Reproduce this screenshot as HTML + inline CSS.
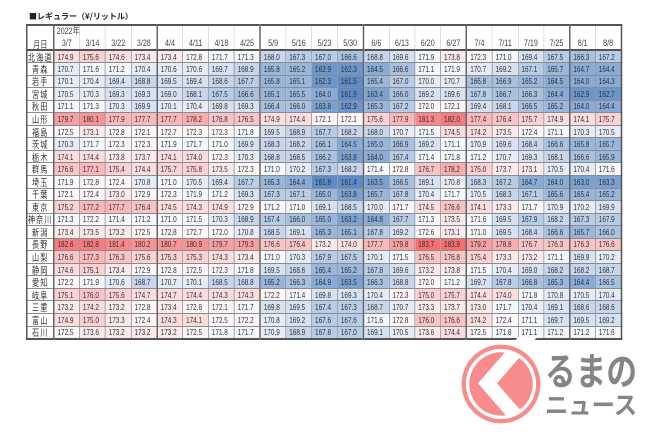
<!DOCTYPE html>
<html><head><meta charset="utf-8">
<style>
body{margin:0;width:650px;height:433px;background:#fff;overflow:hidden;position:relative;font-family:"Liberation Sans","Noto Sans CJK JP",sans-serif}
.ttl{position:absolute;left:29px;top:12px;font-size:8px;line-height:10px;font-weight:bold;color:#222;white-space:nowrap;font-family:"Noto Sans CJK JP",sans-serif}
.wrap{position:absolute;left:26px;top:24px;transform:scaleX(.75);transform-origin:0 0}
table{border-collapse:collapse;table-layout:fixed;width:793px;border:2px solid #555}
col.p{width:36px}col.d{width:34.4px}
td{padding:0 0 0 4px;font-size:8.5px;line-height:10px;color:#333;white-space:nowrap;overflow:hidden;border:1px solid #8c8c8c;vertical-align:middle}
thead td{border-top:none;border-bottom:none;border-left:1px solid #d4d4d4;border-right:1px solid #d4d4d4;font-size:9.5px;text-align:center;padding:0;color:#444}
thead tr.h1{height:13.5px}
thead tr.h2{height:11.5px}
thead tr.h1 td{vertical-align:middle;overflow:visible}
thead td.y{text-align:left;padding-left:3px}
tbody tr{height:12.55px}
tbody tr:first-child td{border-top:2px solid #555}
tbody td:first-child{text-align:center;padding:0;font-size:9.5px;letter-spacing:1.5px;font-family:"Noto Sans CJK JP",sans-serif;color:#333}
thead td:first-child{font-family:"Noto Sans CJK JP",sans-serif}
td:nth-child(2),td:nth-child(6),td:nth-child(10),td:nth-child(14),td:nth-child(18),td:nth-child(22){border-left:2px solid #666}
.c161{background:#5c8bc7}.c162{background:#6b96cc}.c163{background:#7aa1d1}.c164{background:#89abd7}.c165{background:#99b6dc}.c166{background:#a8c1e1}.c167{background:#b7cce7}.c168{background:#c7d6ec}.c169{background:#d6e1f2}.c170{background:#e5ecf7}.c171{background:#f4f7fc}.c172{background:#fcf6f9}.c173{background:#fbe9ec}.c174{background:#fbdde0}.c175{background:#fbd1d3}.c176{background:#fac4c7}.c177{background:#fab8bb}.c178{background:#faacae}.c179{background:#f99fa2}.c180{background:#f99395}.c181{background:#f98789}.c182{background:#f97a7c}.c183{background:#f86e70}
.logo{position:absolute;left:450px;top:330px}
</style></head><body>
<div class="ttl">■レギュラー（¥/リットル）</div>
<div class="wrap">
<table>
<colgroup><col class="p"><col class="d"><col class="d"><col class="d"><col class="d"><col class="d"><col class="d"><col class="d"><col class="d"><col class="d"><col class="d"><col class="d"><col class="d"><col class="d"><col class="d"><col class="d"><col class="d"><col class="d"><col class="d"><col class="d"><col class="d"><col class="d"><col class="d"></colgroup>
<thead>
<tr class="h1"><td></td><td class="y">2022年</td><td></td><td></td><td></td><td></td><td></td><td></td><td></td><td></td><td></td><td></td><td></td><td></td><td></td><td></td><td></td><td></td><td></td><td></td><td></td><td></td><td></td></tr>
<tr class="h2"><td>月日</td><td>3/7</td><td>3/14</td><td>3/22</td><td>3/28</td><td>4/4</td><td>4/11</td><td>4/18</td><td>4/25</td><td>5/9</td><td>5/16</td><td>5/23</td><td>5/30</td><td>6/6</td><td>6/13</td><td>6/20</td><td>6/27</td><td>7/4</td><td>7/11</td><td>7/19</td><td>7/25</td><td>8/1</td><td>8/8</td></tr>
</thead>
<tbody>
<tr><td>北海道</td><td class="c174">174.9</td><td class="c175">175.6</td><td class="c174">174.6</td><td class="c173">173.4</td><td class="c173">173.4</td><td class="c172">172.8</td><td class="c171">171.7</td><td class="c171">171.3</td><td class="c168">168.0</td><td class="c167">167.3</td><td class="c167">167.0</td><td class="c166">166.6</td><td class="c168">168.8</td><td class="c169">169.6</td><td class="c171">171.9</td><td class="c173">173.8</td><td class="c172">172.3</td><td class="c171">171.0</td><td class="c169">169.4</td><td class="c167">167.5</td><td class="c166">166.3</td><td class="c167">167.2</td></tr>
<tr><td>青森</td><td class="c170">170.7</td><td class="c171">171.6</td><td class="c171">171.2</td><td class="c170">170.4</td><td class="c170">170.6</td><td class="c170">170.6</td><td class="c169">169.7</td><td class="c168">168.9</td><td class="c165">165.8</td><td class="c165">165.2</td><td class="c162">162.9</td><td class="c162">162.3</td><td class="c164">164.5</td><td class="c166">166.6</td><td class="c171">171.1</td><td class="c171">171.9</td><td class="c170">170.7</td><td class="c169">169.2</td><td class="c167">167.1</td><td class="c165">165.7</td><td class="c164">164.7</td><td class="c164">164.4</td></tr>
<tr><td>岩手</td><td class="c170">170.1</td><td class="c170">170.4</td><td class="c169">169.4</td><td class="c168">168.8</td><td class="c169">169.5</td><td class="c169">169.4</td><td class="c168">168.6</td><td class="c167">167.7</td><td class="c165">165.8</td><td class="c165">165.1</td><td class="c162">162.3</td><td class="c161">161.5</td><td class="c165">165.4</td><td class="c167">167.0</td><td class="c170">170.0</td><td class="c170">170.7</td><td class="c166">166.8</td><td class="c166">166.9</td><td class="c165">165.2</td><td class="c164">164.5</td><td class="c164">164.0</td><td class="c164">164.3</td></tr>
<tr><td>宮城</td><td class="c170">170.5</td><td class="c170">170.3</td><td class="c169">169.3</td><td class="c169">169.3</td><td class="c169">169.0</td><td class="c168">168.1</td><td class="c167">167.5</td><td class="c166">166.6</td><td class="c165">165.1</td><td class="c165">165.5</td><td class="c164">164.0</td><td class="c161">161.9</td><td class="c163">163.4</td><td class="c166">166.0</td><td class="c169">169.2</td><td class="c169">169.6</td><td class="c167">167.8</td><td class="c166">166.7</td><td class="c166">166.3</td><td class="c164">164.4</td><td class="c162">162.9</td><td class="c162">162.7</td></tr>
<tr><td>秋田</td><td class="c171">171.1</td><td class="c171">171.3</td><td class="c170">170.3</td><td class="c169">169.9</td><td class="c170">170.1</td><td class="c170">170.4</td><td class="c169">169.8</td><td class="c169">169.3</td><td class="c166">166.4</td><td class="c166">166.0</td><td class="c163">163.8</td><td class="c162">162.9</td><td class="c165">165.3</td><td class="c167">167.2</td><td class="c172">172.0</td><td class="c172">172.1</td><td class="c169">169.4</td><td class="c168">168.1</td><td class="c166">166.5</td><td class="c165">165.2</td><td class="c164">164.0</td><td class="c164">164.4</td></tr>
<tr><td>山形</td><td class="c179">179.7</td><td class="c180">180.1</td><td class="c177">177.9</td><td class="c177">177.7</td><td class="c177">177.7</td><td class="c178">178.2</td><td class="c176">176.8</td><td class="c176">176.5</td><td class="c174">174.9</td><td class="c174">174.4</td><td class="c172">172.1</td><td class="c172">172.1</td><td class="c175">175.6</td><td class="c177">177.9</td><td class="c181">181.3</td><td class="c182">182.0</td><td class="c177">177.4</td><td class="c176">176.4</td><td class="c175">175.7</td><td class="c174">174.9</td><td class="c174">174.1</td><td class="c175">175.7</td></tr>
<tr><td>福島</td><td class="c172">172.5</td><td class="c173">173.1</td><td class="c172">172.8</td><td class="c172">172.1</td><td class="c172">172.7</td><td class="c172">172.3</td><td class="c172">172.3</td><td class="c171">171.8</td><td class="c169">169.5</td><td class="c168">168.9</td><td class="c167">167.7</td><td class="c168">168.2</td><td class="c168">168.0</td><td class="c170">170.7</td><td class="c171">171.5</td><td class="c174">174.5</td><td class="c174">174.2</td><td class="c173">173.5</td><td class="c172">172.4</td><td class="c171">171.1</td><td class="c170">170.3</td><td class="c170">170.5</td></tr>
<tr><td>茨城</td><td class="c170">170.3</td><td class="c171">171.7</td><td class="c172">172.3</td><td class="c172">172.3</td><td class="c171">171.9</td><td class="c171">171.7</td><td class="c171">171.0</td><td class="c169">169.9</td><td class="c168">168.3</td><td class="c168">168.2</td><td class="c166">166.1</td><td class="c164">164.5</td><td class="c165">165.0</td><td class="c166">166.9</td><td class="c169">169.2</td><td class="c171">171.1</td><td class="c170">170.9</td><td class="c169">169.6</td><td class="c168">168.4</td><td class="c166">166.6</td><td class="c165">165.8</td><td class="c165">165.7</td></tr>
<tr><td>栃木</td><td class="c174">174.1</td><td class="c174">174.4</td><td class="c173">173.8</td><td class="c173">173.7</td><td class="c174">174.1</td><td class="c174">174.0</td><td class="c172">172.3</td><td class="c170">170.3</td><td class="c168">168.8</td><td class="c168">168.5</td><td class="c166">166.2</td><td class="c163">163.8</td><td class="c164">164.0</td><td class="c167">167.4</td><td class="c171">171.4</td><td class="c171">171.8</td><td class="c171">171.2</td><td class="c170">170.7</td><td class="c169">169.3</td><td class="c168">168.1</td><td class="c166">166.6</td><td class="c165">165.9</td></tr>
<tr><td>群馬</td><td class="c176">176.6</td><td class="c177">177.1</td><td class="c175">175.4</td><td class="c174">174.4</td><td class="c175">175.7</td><td class="c175">175.8</td><td class="c173">173.5</td><td class="c172">172.3</td><td class="c171">171.0</td><td class="c170">170.2</td><td class="c167">167.3</td><td class="c168">168.2</td><td class="c171">171.4</td><td class="c172">172.8</td><td class="c176">176.7</td><td class="c178">178.2</td><td class="c175">175.0</td><td class="c173">173.7</td><td class="c173">173.1</td><td class="c170">170.5</td><td class="c170">170.4</td><td class="c171">171.6</td></tr>
<tr><td>埼玉</td><td class="c171">171.9</td><td class="c172">172.8</td><td class="c172">172.4</td><td class="c170">170.8</td><td class="c171">171.0</td><td class="c170">170.5</td><td class="c169">169.4</td><td class="c167">167.7</td><td class="c165">165.3</td><td class="c164">164.4</td><td class="c161">161.8</td><td class="c161">161.4</td><td class="c163">163.5</td><td class="c166">166.5</td><td class="c169">169.1</td><td class="c170">170.8</td><td class="c168">168.3</td><td class="c167">167.2</td><td class="c164">164.7</td><td class="c164">164.0</td><td class="c163">163.0</td><td class="c163">163.3</td></tr>
<tr><td>千葉</td><td class="c172">172.1</td><td class="c172">172.4</td><td class="c173">173.0</td><td class="c172">172.9</td><td class="c172">172.3</td><td class="c171">171.9</td><td class="c171">171.2</td><td class="c169">169.3</td><td class="c167">167.3</td><td class="c167">167.1</td><td class="c165">165.0</td><td class="c163">163.8</td><td class="c165">165.7</td><td class="c167">167.8</td><td class="c170">170.4</td><td class="c171">171.7</td><td class="c170">170.5</td><td class="c168">168.3</td><td class="c167">167.1</td><td class="c165">165.6</td><td class="c165">165.4</td><td class="c165">165.2</td></tr>
<tr><td>東京</td><td class="c175">175.2</td><td class="c177">177.2</td><td class="c177">177.7</td><td class="c176">176.4</td><td class="c174">174.5</td><td class="c174">174.3</td><td class="c174">174.9</td><td class="c172">172.9</td><td class="c171">171.2</td><td class="c171">171.0</td><td class="c169">169.1</td><td class="c168">168.5</td><td class="c170">170.0</td><td class="c171">171.7</td><td class="c174">174.5</td><td class="c176">176.6</td><td class="c174">174.1</td><td class="c173">173.3</td><td class="c171">171.7</td><td class="c170">170.9</td><td class="c170">170.2</td><td class="c169">169.9</td></tr>
<tr><td>神奈川</td><td class="c171">171.3</td><td class="c172">172.2</td><td class="c171">171.4</td><td class="c171">171.2</td><td class="c171">171.0</td><td class="c171">171.5</td><td class="c170">170.3</td><td class="c168">168.9</td><td class="c167">167.4</td><td class="c166">166.0</td><td class="c165">165.0</td><td class="c163">163.2</td><td class="c164">164.8</td><td class="c167">167.7</td><td class="c171">171.3</td><td class="c173">173.5</td><td class="c171">171.6</td><td class="c169">169.5</td><td class="c167">167.9</td><td class="c168">168.2</td><td class="c167">167.3</td><td class="c167">167.9</td></tr>
<tr><td>新潟</td><td class="c173">173.4</td><td class="c173">173.5</td><td class="c173">173.2</td><td class="c172">172.5</td><td class="c172">172.8</td><td class="c172">172.7</td><td class="c172">172.0</td><td class="c170">170.8</td><td class="c168">168.5</td><td class="c169">169.1</td><td class="c165">165.3</td><td class="c165">165.1</td><td class="c167">167.8</td><td class="c169">169.2</td><td class="c172">172.6</td><td class="c173">173.1</td><td class="c171">171.0</td><td class="c169">169.5</td><td class="c168">168.4</td><td class="c166">166.6</td><td class="c165">165.7</td><td class="c166">166.0</td></tr>
<tr><td>長野</td><td class="c182">182.6</td><td class="c182">182.8</td><td class="c181">181.4</td><td class="c180">180.2</td><td class="c180">180.7</td><td class="c180">180.9</td><td class="c179">179.7</td><td class="c179">179.3</td><td class="c176">176.6</td><td class="c176">176.4</td><td class="c173">173.2</td><td class="c174">174.0</td><td class="c177">177.7</td><td class="c179">179.8</td><td class="c183">183.7</td><td class="c183">183.9</td><td class="c179">179.2</td><td class="c178">178.8</td><td class="c176">176.7</td><td class="c176">176.3</td><td class="c176">176.3</td><td class="c176">176.6</td></tr>
<tr><td>山梨</td><td class="c176">176.6</td><td class="c177">177.3</td><td class="c176">176.3</td><td class="c175">175.6</td><td class="c175">175.3</td><td class="c175">175.3</td><td class="c174">174.3</td><td class="c173">173.4</td><td class="c171">171.0</td><td class="c170">170.3</td><td class="c167">167.9</td><td class="c167">167.5</td><td class="c170">170.1</td><td class="c171">171.5</td><td class="c176">176.5</td><td class="c176">176.8</td><td class="c175">175.4</td><td class="c173">173.3</td><td class="c173">173.2</td><td class="c171">171.1</td><td class="c169">169.9</td><td class="c170">170.2</td></tr>
<tr><td>静岡</td><td class="c174">174.6</td><td class="c175">175.1</td><td class="c173">173.4</td><td class="c172">172.9</td><td class="c172">172.8</td><td class="c172">172.5</td><td class="c172">172.3</td><td class="c171">171.8</td><td class="c169">169.5</td><td class="c168">168.6</td><td class="c165">165.4</td><td class="c165">165.2</td><td class="c167">167.8</td><td class="c169">169.6</td><td class="c173">173.2</td><td class="c173">173.8</td><td class="c171">171.5</td><td class="c170">170.4</td><td class="c169">169.0</td><td class="c168">168.2</td><td class="c168">168.2</td><td class="c168">168.7</td></tr>
<tr><td>愛知</td><td class="c172">172.2</td><td class="c171">171.9</td><td class="c170">170.6</td><td class="c168">168.7</td><td class="c170">170.7</td><td class="c170">170.1</td><td class="c168">168.5</td><td class="c168">168.8</td><td class="c165">165.2</td><td class="c166">166.3</td><td class="c164">164.9</td><td class="c163">163.5</td><td class="c166">166.3</td><td class="c168">168.8</td><td class="c172">172.0</td><td class="c171">171.2</td><td class="c169">169.7</td><td class="c167">167.8</td><td class="c166">166.8</td><td class="c165">165.3</td><td class="c164">164.4</td><td class="c166">166.5</td></tr>
<tr><td>岐阜</td><td class="c175">175.1</td><td class="c176">176.0</td><td class="c175">175.6</td><td class="c174">174.7</td><td class="c174">174.7</td><td class="c174">174.4</td><td class="c174">174.3</td><td class="c174">174.3</td><td class="c172">172.2</td><td class="c171">171.4</td><td class="c169">169.8</td><td class="c169">169.3</td><td class="c170">170.4</td><td class="c172">172.3</td><td class="c175">175.0</td><td class="c175">175.7</td><td class="c174">174.4</td><td class="c174">174.0</td><td class="c171">171.8</td><td class="c170">170.8</td><td class="c170">170.5</td><td class="c170">170.4</td></tr>
<tr><td>三重</td><td class="c173">173.2</td><td class="c174">174.2</td><td class="c173">173.2</td><td class="c172">172.8</td><td class="c173">173.4</td><td class="c172">172.8</td><td class="c172">172.1</td><td class="c171">171.7</td><td class="c169">169.8</td><td class="c169">169.5</td><td class="c167">167.4</td><td class="c167">167.3</td><td class="c168">168.7</td><td class="c170">170.7</td><td class="c173">173.3</td><td class="c173">173.7</td><td class="c173">173.0</td><td class="c171">171.7</td><td class="c170">170.4</td><td class="c169">169.1</td><td class="c168">168.6</td><td class="c168">168.6</td></tr>
<tr><td>富山</td><td class="c174">174.9</td><td class="c175">175.0</td><td class="c173">173.3</td><td class="c172">172.4</td><td class="c174">174.3</td><td class="c174">174.1</td><td class="c172">172.5</td><td class="c172">172.2</td><td class="c170">170.8</td><td class="c169">169.2</td><td class="c167">167.6</td><td class="c167">167.6</td><td class="c171">171.6</td><td class="c172">172.8</td><td class="c176">176.0</td><td class="c176">176.6</td><td class="c174">174.2</td><td class="c172">172.4</td><td class="c171">171.1</td><td class="c169">169.7</td><td class="c169">169.5</td><td class="c169">169.2</td></tr>
<tr><td>石川</td><td class="c172">172.5</td><td class="c173">173.6</td><td class="c173">173.2</td><td class="c173">173.2</td><td class="c173">173.2</td><td class="c172">172.5</td><td class="c171">171.8</td><td class="c171">171.7</td><td class="c170">170.9</td><td class="c168">168.9</td><td class="c167">167.8</td><td class="c167">167.0</td><td class="c169">169.1</td><td class="c170">170.5</td><td class="c173">173.6</td><td class="c174">174.4</td><td class="c172">172.5</td><td class="c171">171.8</td><td class="c171">171.1</td><td class="c171">171.2</td><td class="c171">171.2</td><td class="c171">171.6</td></tr>
</tbody>
</table>
</div>
<svg class="logo" width="200" height="103" viewBox="0 0 200 103">
<circle cx="51" cy="54" r="31.7" fill="#f88b8b"/>
<polygon points="28,53.3 68,7.3 87,7.3 47,53.3 87,99.3 68,99.3" fill="#fff"/>
<circle cx="51" cy="54" r="37.2" fill="none" stroke="#f88b8b" stroke-width="4.3"/>
<text x="95" y="55" font-family="Noto Sans CJK JP, sans-serif" font-weight="bold" font-size="38" fill="#858585" textLength="92" lengthAdjust="spacingAndGlyphs">るまの</text>
<text x="95" y="84" font-family="Noto Sans CJK JP, sans-serif" font-weight="bold" font-size="25" fill="#858585" textLength="92" lengthAdjust="spacingAndGlyphs">ニュース</text>
</svg>
</body></html>
